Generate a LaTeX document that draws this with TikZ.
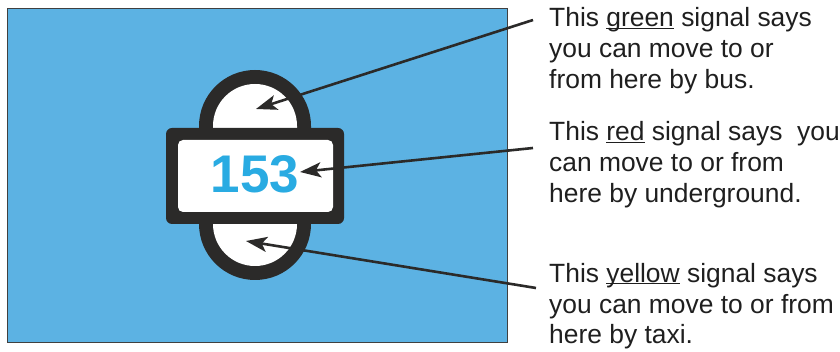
\documentclass[tikz,border=0pt]{standalone}
\usepackage{fontspec}
\setmainfont{Liberation Sans}
\usetikzlibrary{arrows.meta}
\definecolor{mapblue}{HTML}{5CB2E3}
\definecolor{signalink}{HTML}{2B2A29}
\definecolor{numblue}{HTML}{29ABE2}
\newcommand\signalword[1]{\underline{\smash{#1}}}
\begin{document}
\begin{tikzpicture}[x=1pt, y=-1pt,
  pointer/.style={draw=signalink, line width=2.6pt, -{Stealth[length=21pt,width=15pt,inset=5pt]}},
  caption/.style={anchor=base west, align=left, inner sep=0pt, text=black!88,
    font=\fontsize{26.4}{31}\selectfont}]
  \useasboundingbox (0,0) rectangle (840,352);
  % map background
  \draw[fill=mapblue, draw=black!75, line width=1pt] (7,9) rectangle (507,342);
  % station symbol: capsule for bus and taxi
  \fill[signalink, rounded corners=56pt] (199,70) rectangle (311,280);
  \fill[white, rounded corners=42pt] (213,84) rectangle (297,266);
  % station symbol: bar for underground
  \fill[signalink, rounded corners=6pt] (166,128) rectangle (344,224);
  \fill[white, rounded corners=5pt] (178,140) rectangle (333,212);
  \node[anchor=base, inner sep=0pt, text=numblue, font=\fontsize{53}{53}\selectfont\bfseries] (number) at (255,193) {153};
  % captions (anchored at the baseline of the last line)
  \node[caption] (bus) at (549,89) {This \signalword{green} signal says\\you can move to or\\from here by bus.};
  \node[caption] (underground) at (549,203) {This \signalword{red} signal says\ \ you\\can move to or from\\here by underground.};
  \node[caption] (taxi) at (549,344) {This \signalword{yellow} signal says\\you can move to or from\\here by taxi.};
  % pointers
  \coordinate (bus tail) at (533,20);
  \coordinate (bus tip) at (256,109);
  \coordinate (underground tail) at (533,148);
  \coordinate (underground tip) at (300,172);
  \coordinate (taxi tail) at (536,288);
  \coordinate (taxi tip) at (246,241);
  \draw[pointer] (bus tail) -- (bus tip);
  \draw[pointer] (underground tail) -- (underground tip);
  \draw[pointer] (taxi tail) -- (taxi tip);
\end{tikzpicture}
\end{document}
